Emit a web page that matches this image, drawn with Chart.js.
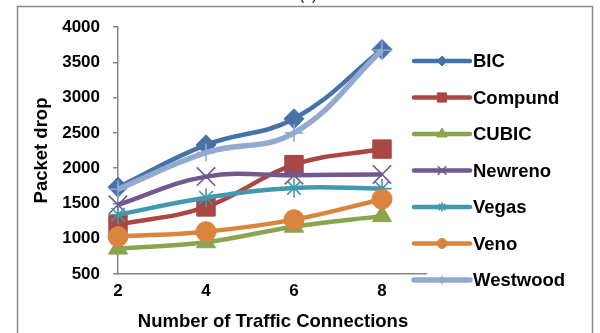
<!DOCTYPE html>
<html>
<head>
<meta charset="utf-8">
<script src="https://cdn.jsdelivr.net/npm/chart.js@4.4.1/dist/chart.umd.min.js"></script>
<style>
  html, body { margin: 0; padding: 0; background: #fff; }
  #wrap { width: 600px; height: 333px; position: relative; }
</style>
</head>
<body>
<div id="wrap"><canvas id="c" width="600" height="333"></canvas></div>
<script>
// Number of traffic connections (x positions)
const connections = [2, 4, 6, 8];
// Packet drop per TCP variant
const bic      = [1730, 2330, 2700, 3680];
const compund  = [1200, 1450, 2050, 2270];
const cubic    = [860, 950, 1170, 1320];
const newreno  = [1480, 1880, 1900, 1910];
const vegas    = [1340, 1580, 1720, 1710];
const veno     = [1030, 1100, 1270, 1560];
const westwood = [1700, 2220, 2500, 3670];
// Axis ticks
const yTicks = [500, 1000, 1500, 2000, 2500, 3000, 3500, 4000];
const xTicks = [2, 4, 6, 8];

const FONT = "'Liberation Sans', Arial, sans-serif";
const AXIS_GRAY = '#878787';
const TICK_SIZE = 17;
const TITLE_SIZE = 18.5;

const seriesDefs = [
  { label: 'BIC',      values: bic,      color: '#4572A7', style: 'rectRot',  r: 10,  lr: 5,   w: 4.5 },
  { label: 'Compund',  values: compund,  color: '#AA4643', style: 'rect',     r: 13,  lr: 6.5, w: 4.5 },
  { label: 'CUBIC',    values: cubic,    color: '#89A54E', style: 'triangle', r: 11,  lr: 6,   w: 4.5 },
  { label: 'Newreno',  values: newreno,  color: '#71588F', style: 'crossRot', r: 13,  lr: 6,   w: 4.5 },
  { label: 'Vegas',    values: vegas,    color: '#4198AF', style: 'star',     r: 9.5, lr: 4.5, w: 4.5 },
  { label: 'Veno',     values: veno,     color: '#DB843D', style: 'circle',   r: 10,  lr: 5,   w: 4.5 },
  { label: 'Westwood', values: westwood, color: '#93A9CF', style: 'cross',    r: 9,   lr: 4.5, w: 5.5 }
];

const thinStyles = ['crossRot', 'star', 'cross'];

const datasets = seriesDefs.map((s, i) => ({
  label: s.label,
  data: connections.map((x, k) => ({ x: x, y: s.values[k] })),
  borderColor: s.color,
  backgroundColor: s.color,
  borderWidth: s.w,
  tension: 0.4,
  pointStyle: s.style,
  pointRadius: s.r,
  pointBorderColor: s.color,
  pointBackgroundColor: s.color,
  pointBorderWidth: thinStyles.includes(s.style) ? 1.6 : 1,
  legendRadius: s.lr,
  order: seriesDefs.length - i,   // later series drawn on top
  clip: false
}));

// Outer frame, axis titles, caption fragment and the right-hand legend
const decorations = {
  id: 'decorations',
  afterDraw(chart) {
    const ctx = chart.ctx;
    const area = chart.chartArea;
    ctx.save();

    // frame around the figure
    ctx.strokeStyle = '#8a8a8a';
    ctx.lineWidth = 1.5;
    ctx.strokeRect(17.5, 6.5, 575, 400);

    // caption fragment above the frame
    ctx.fillStyle = '#000';
    ctx.font = '14px ' + FONT;
    ctx.textAlign = 'center';
    ctx.textBaseline = 'alphabetic';
    ctx.fillText('(b)', 308, 0);

    // axis titles
    ctx.font = 'bold ' + TITLE_SIZE + 'px ' + FONT;
    ctx.textBaseline = 'middle';
    ctx.fillText('Number of Traffic Connections', (area.left + area.right) / 2 + 1, 322);
    ctx.save();
    ctx.translate(42, (area.top + area.bottom) / 2);
    ctx.rotate(-Math.PI / 2);
    ctx.fillText('Packet drop', 0, 0);
    ctx.restore();

    // legend
    const x0 = 414, x1 = 470, top = 61, step = 36.5;
    chart.data.datasets.forEach((ds, i) => {
      const y = top + i * step;
      ctx.strokeStyle = ds.borderColor;
      ctx.lineWidth = ds.borderWidth;
      ctx.lineCap = 'round';
      ctx.beginPath();
      ctx.moveTo(x0, y);
      ctx.lineTo(x1, y);
      ctx.stroke();
      ctx.lineCap = 'butt';
      ctx.fillStyle = ds.pointBackgroundColor;
      ctx.strokeStyle = ds.pointBorderColor;
      ctx.lineWidth = ds.pointBorderWidth;
      Chart.helpers.drawPoint(ctx, {
        pointStyle: ds.pointStyle,
        radius: ds.legendRadius,
        rotation: 0,
        borderWidth: ds.pointBorderWidth
      }, (x0 + x1) / 2, y);
      ctx.fillStyle = '#000';
      ctx.font = 'bold ' + TITLE_SIZE + 'px ' + FONT;
      ctx.textAlign = 'left';
      ctx.textBaseline = 'middle';
      ctx.fillText(ds.label, x1 + 3, y + 1);
    });
    ctx.restore();
  }
};

new Chart(document.getElementById('c'), {
  type: 'line',
  data: { datasets: datasets },
  options: {
    responsive: false,
    animation: false,
    devicePixelRatio: 1,
    layout: { padding: { left: 0, top: 27, right: 174, bottom: 0 } },
    plugins: {
      legend: { display: false },
      tooltip: { enabled: false },
      title: { display: false }
    },
    scales: {
      x: {
        type: 'linear',
        min: 2,
        max: 9,
        afterBuildTicks: (scale) => { scale.ticks = xTicks.map(v => ({ value: v })); },
        afterFit: (scale) => { scale.height = 59; },
        grid: { drawOnChartArea: false, drawTicks: false },
        border: { color: AXIS_GRAY, width: 1.5 },
        ticks: {
          color: '#000', padding: 7,
          font: { family: FONT, size: TICK_SIZE, weight: 'bold' },
          callback: (v) => String(v)
        }
      },
      y: {
        type: 'linear',
        min: 500,
        max: 4000,
        afterBuildTicks: (scale) => { scale.ticks = yTicks.map(v => ({ value: v })); },
        afterFit: (scale) => { scale.width = 118; },
        grid: { drawOnChartArea: false, drawTicks: true, tickLength: 5, color: AXIS_GRAY, lineWidth: 1.5 },
        border: { color: AXIS_GRAY, width: 1.5 },
        ticks: {
          color: '#000', padding: 13,
          font: { family: FONT, size: TICK_SIZE, weight: 'bold' },
          callback: (v) => String(v)
        }
      }
    }
  },
  plugins: [decorations]
});
</script>
</body>
</html>
